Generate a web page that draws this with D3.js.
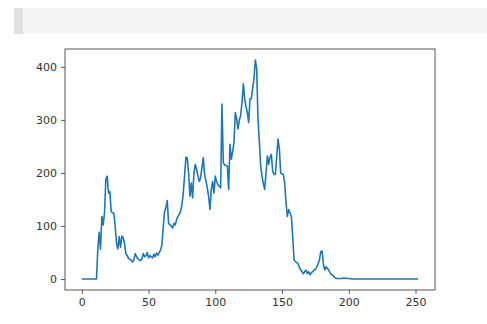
<!DOCTYPE html>
<html>
<head>
<meta charset="utf-8">
<script src="https://cdn.jsdelivr.net/npm/d3@7"></script>
<style>
  html, body { margin: 0; padding: 0; background: #fff; }
  svg { display: block; }
</style>
</head>
<body>
<div id="chart"></div>
<script>
// daily counts, one value per day index
const counts = [
  0, 0, 0, 0, 0, 0, 0, 0, 0, 0, 0, 0,
  58, 88, 56, 118, 102, 125, 188, 194, 162, 165,
  127, 125, 124, 99, 67, 57, 80, 60, 81, 78,
  67, 48, 44, 39, 37, 36, 32, 36, 48, 42,
  38, 36, 35, 38, 48, 42, 44, 50, 40, 44,
  42, 40, 47, 42, 49, 45, 50, 55, 64, 99,
  127, 135, 148, 105, 102, 100, 96, 105, 102, 112,
  118, 122, 127, 140, 162, 195, 230, 228, 200, 156,
  181, 153, 200, 216, 207, 194, 184, 191, 210, 229,
  197, 185, 172, 156, 131, 169, 184, 162, 194, 184,
  178, 175, 172, 330, 219, 215, 214, 213, 169, 254,
  226, 240, 257, 314, 302, 283, 300, 308, 333, 368,
  340, 325, 314, 295, 340, 340, 360, 378, 413, 397,
  300, 260, 213, 194, 180, 169, 200, 232, 216, 230,
  235, 203, 197, 197, 230, 264, 245, 200, 198, 197,
  181, 143, 118, 131, 125, 118, 80, 36, 33, 31,
  29, 22, 17, 14, 10, 14, 17, 10, 14, 8,
  12, 14, 17, 18, 23, 28, 36, 51, 53, 29,
  17, 23, 20, 17, 12, 8, 7, 4, 2, 1,
  1, 1, 1, 1, 2, 1, 2, 1, 1, 1,
  0, 0, 0, 0, 0, 0, 0, 0, 0, 0,
  0, 0, 0, 0, 0, 0, 0, 0, 0, 0,
  0, 0, 0, 0, 0, 0, 0, 0, 0, 0,
  0, 0, 0, 0, 0, 0, 0, 0, 0, 0,
  0, 0, 0, 0, 0, 0, 0, 0, 0, 0,
  0
];
const xTicks = [0, 50, 100, 150, 200, 250];
const yTicks = [0, 100, 200, 300, 400];

const width = 487;
const height = 324;
const plot = { left: 65, top: 49, right: 435, bottom: 290 };

const svg = d3.select('#chart').append('svg')
  .attr('width', width)
  .attr('height', height)
  .attr('viewBox', '0 0 ' + width + ' ' + height);

// notebook cell strip above the figure
svg.append('rect')
  .attr('x', 14).attr('y', 8)
  .attr('width', width - 14).attr('height', 26)
  .attr('fill', '#f5f5f5');
svg.append('rect')
  .attr('x', 14).attr('y', 8)
  .attr('width', 9).attr('height', 26)
  .attr('fill', '#e0e0e0');

// matplotlib style 5% margins
const n = counts.length - 1;
const yMax = d3.max(counts);
const x = d3.scaleLinear()
  .domain([-0.05 * n, n * 1.05])
  .range([plot.left, plot.right]);
const y = d3.scaleLinear()
  .domain([-0.05 * yMax, yMax * 1.05])
  .range([plot.bottom, plot.top]);

const g = svg.append('g');

const line = d3.line()
  .x((d, i) => x(i))
  .y(d => y(d));

g.append('path')
  .datum(counts)
  .attr('fill', 'none')
  .attr('stroke', '#1f77b4')
  .attr('stroke-width', 1.6)
  .attr('stroke-linejoin', 'round')
  .attr('d', line);

// axes
const xAxis = g.append('g')
  .attr('transform', 'translate(0,' + plot.bottom + ')')
  .call(d3.axisBottom(x).tickValues(xTicks).tickSize(4).tickPadding(4));
const yAxis = g.append('g')
  .attr('transform', 'translate(' + plot.left + ',0)')
  .call(d3.axisLeft(y).tickValues(yTicks).tickSize(4).tickPadding(4));

[xAxis, yAxis].forEach(a => {
  a.select('.domain').remove();
  a.selectAll('.tick line').attr('stroke', '#444').attr('stroke-width', 0.9);
  a.selectAll('.tick text')
    .attr('fill', '#333')
    .style('font-family', 'DejaVu Sans, sans-serif')
    .style('font-size', '11px');
});

// frame
g.append('rect')
  .attr('x', plot.left).attr('y', plot.top)
  .attr('width', plot.right - plot.left)
  .attr('height', plot.bottom - plot.top)
  .attr('fill', 'none')
  .attr('stroke', '#444')
  .attr('stroke-width', 0.9);
</script>
</body>
</html>
